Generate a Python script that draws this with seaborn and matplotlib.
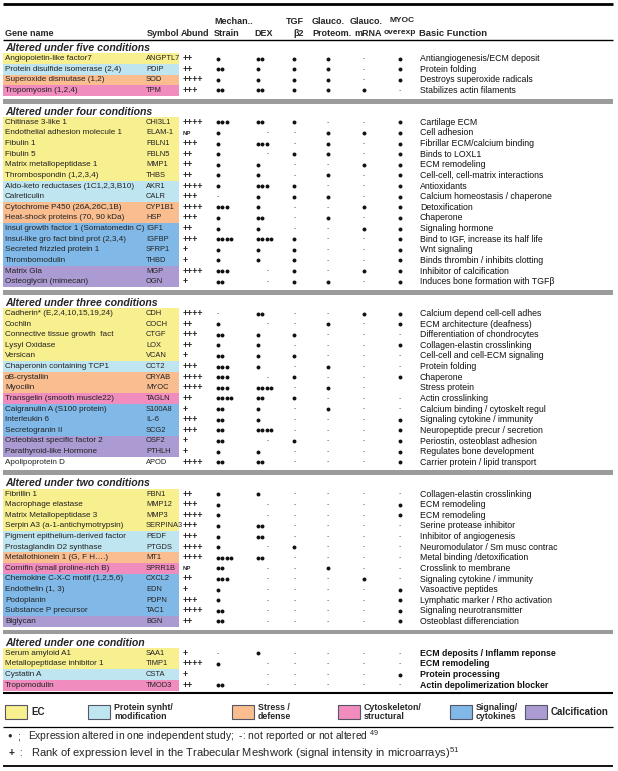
import matplotlib
matplotlib.use("Agg")
import matplotlib.pyplot as plt
import seaborn as sns
import numpy as np
import pandas as pd

# ---- table content -------------------------------------------------------
sections = ["Altered under five conditions", "Altered under four conditions",
            "Altered under three conditions", "Altered under two conditions",
            "Altered under one condition"]
section_sizes = [4, 16, 15, 13, 4]

gene_names = [
    "Angiopoietin-like factor7", "Protein disulfide isomerase (2,4)",
    "Superoxide dismutase (1,2)", "Tropomyosin (1,2,4)",
    "Chitinase 3-like 1", "Endothelial adhesion molecule 1", "Fibulin 1", "Fibulin 5",
    "Matrix metallopeptidase 1", "Thrombospondin (1,2,3,4)",
    "Aldo-keto reductases (1C1,2,3,B10)", "Calreticulin",
    "Cytochrome P450 (26A,26C,1B)", "Heat-shock proteins (70, 90 kDa)",
    "Insul growth factor 1 (Somatomedin C)", "Insul-like gro fact bind prot (2,3,4)",
    "Secreted frizzled protein 1", "Thrombomodulin", "Matrix Gla", "Osteoglycin (mimecan)",
    "Cadherin* (E,2,4,10,15,19,24)", "Cochlin", "Connective tissue growth  fact",
    "Lysyl Oxidase", "Versican", "Chaperonin containing TCP1", "αB-crystallin",
    "Myocilin", "Transgelin (smooth muscle22)", "Calgranulin A (S100 protein)",
    "Interleukin 6", "Secretogranin II", "Osteoblast specific factor 2",
    "Parathyroid-like Hormone", "Apolipoprotein D",
    "Fibrillin 1", "Macrophage elastase", "Matrix Metallopeptidase 3",
    "Serpin A3 (a-1-antichymotrypsin)", "Pigment epithelium-derived factor",
    "Prostaglandin D2 synthase", "Metallothionein 1 (G, F H….)",
    "Cornifin (small proline-rich B)", "Chemokine C-X-C motif (1,2,5,6)",
    "Endothelin (1, 3)", "Podoplanin", "Substance P precursor", "Biglycan",
    "Serum amyloid A1", "Metallopeptidase inhibitor 1", "Cystatin A", "Tropomodulin"]

symbols = ["ANGPTL7", "PDIP", "SOD", "TPM",
           "CHI3L1", "ELAM-1", "FBLN1", "FBLN5", "MMP1", "THBS", "AKR1", "CALR",
           "CYP1B1", "HSP", "IGF1", "IGFBP", "SFRP1", "THBD", "MGP", "OGN",
           "CDH", "COCH", "CTGF", "LOX", "VCAN", "CCT2", "CRYAB", "MYOC", "TAGLN",
           "S100A8", "IL-6", "SCG2", "OSF2", "PTHLH", "APOD",
           "FBN1", "MMP12", "MMP3", "SERPINA3", "PEDF", "PTGDS", "MT1", "SPRR1B",
           "CXCL2", "EDN", "PDPN", "TAC1", "BGN",
           "SAA1", "TIMP1", "CSTA", "TMOD3"]

abund = ["++", "++", "++++", "+++",
         "++++", "NP", "+++", "++", "++", "++", "++++", "+++", "++++", "+++", "++",
         "+++", "+", "+", "++++", "+",
         "++++", "++", "+++", "++", "+", "+++", "++++", "++++", "++", "+", "+++",
         "+++", "+", "+", "++++",
         "++", "+++", "++++", "+++", "+++", "++++", "++++", "NP", "++", "+", "+++",
         "++++", "++",
         "+", "++++", "+", "++"]

# EC, PS protein synth, SD stress/defense, CS cytoskeleton, SG signaling, CA calcification
categories = ["EC", "PS", "SD", "CS",
              "EC", "EC", "EC", "EC", "EC", "EC", "PS", "PS", "SD", "SD", "SG", "SG",
              "SG", "SG", "CA", "CA",
              "EC", "EC", "EC", "EC", "EC", "PS", "SD", "SD", "CS", "SG", "SG", "SG",
              "CA", "CA", None,
              "EC", "EC", "EC", "EC", "PS", "PS", "SD", "CS", "SG", "SG", "SG", "SG", "CA",
              "EC", "EC", "PS", "CS"]

# number of dots per study; 0 = "-", None = empty
strain = [1, 2, 1, 2,
          3, 1, 1, 1, 1, 1, 1, 0, 3, 1, 1, 4, 1, 1, 3, 2,
          0, 1, 2, 1, 2, 3, 3, 3, 4, 2, 2, 2, 2, 1, 2,
          1, 1, 1, 1, 1, 1, 4, 2, 3, 1, 1, 2, 2,
          0, 1, None, 2]
dex = [2, 1, 1, 2,
       2, 0, 3, 0, 1, 1, 3, 1, 1, 2, 1, 4, 1, 1, 0, 0,
       2, 0, 1, 1, 1, 1, 0, 4, 2, 1, 1, 4, 0, 1, 2,
       1, 0, 0, 2, 2, 0, 2, 0, 0, 0, 0, 0, 0,
       1, 0, 0, 0]
tgf = [1, 1, 1, 1,
       1, 0, 0, 1, 0, 0, 1, 1, 0, 0, 0, 1, 1, 1, 1, 1,
       0, 0, 1, 0, 1, 0, 1, 0, 1, 0, 0, 0, 1, 0, 0,
       0, 0, 0, 0, 0, 1, 0, 0, 0, 0, 0, 0, 0,
       0, 0, 0, 0]
proteom = [1, 1, 1, 1,
           0, 1, 1, 1, 0, 1, 0, 1, 0, 1, 0, 0, 0, 0, 0, 1,
           0, 1, 0, 0, 0, 1, 0, 1, 0, 1, 0, 0, 0, 0, 0,
           0, 0, 0, 0, 0, 0, 0, 1, 0, 0, 0, 0, 0,
           0, 0, 0, 0]
mrna = [0, 0, 0, 1,
        0, 1, 0, 0, 1, 0, 0, 0, 1, 0, 1, 0, 0, 0, 1, 0,
        1, 0, 0, 0, 0, 0, 0, 0, 0, 0, 0, 0, 0, 0, 0,
        0, 0, 0, 0, 0, 0, 0, 0, 1, 0, 0, 0, 0,
        0, 0, 0, 0]
myoc = [1, 1, 1, 0,
        1, 1, 1, 1, 1, 1, 1, 1, 1, 1, 1, 1, 1, 1, 1, 1,
        1, 1, 0, 1, 0, 0, 1, None, 0, 0, 1, 1, 1, 1, 1,
        0, 1, 1, 0, 0, 0, 0, 0, 0, 1, 1, 1, 1,
        0, 0, 1, 0]

functions = [
    "Antiangiogenesis/ECM deposit", "Protein folding", "Destroys superoxide radicals",
    "Stabilizes actin filaments",
    "Cartilage ECM", "Cell adhesion", "Fibrillar ECM/calcium binding", "Binds to LOXL1",
    "ECM remodeling", "Cell-cell, cell-matrix interactions", "Antioxidants",
    "Calcium homeostasis / chaperone", "Detoxification", "Chaperone", "Signaling hormone",
    "Bind to IGF, increase its half life", "Wnt signaling",
    "Binds thrombin / inhibits clotting", "Inhibitor of calcification",
    "Induces bone formation with TGFβ",
    "Calcium depend cell-cell adhes", "ECM architecture (deafness)",
    "Differentiation of chondrocytes", "Collagen-elastin crosslinking",
    "Cell-cell and cell-ECM signaling", "Protein folding", "Chaperone", "Stress protein",
    "Actin crosslinking", "Calcium binding / cytoskelt regul",
    "Signaling cytokine / immunity", "Neuropeptide precur / secretion",
    "Periostin, osteoblast adhesion", "Regulates bone development",
    "Carrier protein / lipid transport",
    "Collagen-elastin crosslinking", "ECM remodeling", "ECM remodeling",
    "Serine protease inhibitor", "Inhibitor of angiogenesis",
    "Neuromodulator / Sm musc contrac", "Metal binding /detoxification",
    "Crosslink to membrane", "Signaling cytokine / immunity", "Vasoactive peptides",
    "Lymphatic marker / Rho activation", "Signaling neurotransmitter",
    "Osteoblast differenciation",
    "ECM deposits / Inflamm reponse", "ECM remodeling", "Protein processing",
    "Actin depolimerization blocker"]

legend_keys = ["EC", "PS", "SD", "CS", "SG", "CA"]
legend_labels = ["EC", "Protein synht/\nmodification", "Stress /\ndefense",
                 "Cytoskeleton/\nstructural", "Signaling/\ncytokines", "Calcification"]
cat_colors = {"EC": "#f8ef8e", "PS": "#bfe5f1", "SD": "#f9bd8f",
              "CS": "#f08cbe", "SG": "#80b9e8", "CA": "#ab9bd2"}

# ---- style ---------------------------------------------------------------
sns.set_theme(style="white")
plt.rcParams["font.family"] = ["Liberation Sans", "DejaVu Sans"]
plt.rcParams["mathtext.default"] = "regular"

W, H = 618, 771
fig = plt.figure(figsize=(W / 100, H / 100), dpi=100)
ax = fig.add_axes([0, 0, 1, 1])

fs_gene, fs_sym, fs_func = 5.9, 5.4, 6.3
row_h = 10.62
y_first = 48
x_gene, x_sym, x_abund, x_func = 5, 146, 183, 420
box_l, box_r = 3, 179
line_l, line_r = 3, 613
dot_x = [218, 258, 294, 328, 364, 400]
dash_x = [218, 268, 295, 328, 364, 400]
dot_step = 4.3

# slot positions for titles, rows and gray separators
slot = 0
title_y, row_y, bar_y = [], [], []
for i, n in enumerate(section_sizes):
    title_y.append(y_first + slot * row_h)
    slot += 1
    for _ in range(n):
        row_y.append(y_first + slot * row_h)
        slot += 1
    if i < len(section_sizes) - 1:
        bar_y.append(y_first + slot * row_h)
        slot += 1
row_y = np.array(row_y)

# colored category boxes
has_cat = [c is not None for c in categories]
ax.barh(row_y[has_cat], width=box_r - box_l, left=box_l, height=row_h,
        color=[cat_colors[c] for c in categories if c is not None], linewidth=0)

# gray separators
ax.barh(bar_y, width=line_r - line_l, left=line_l, height=4.8, color="#9b9b9b",
        linewidth=0)

# dots and dashes
dots, dashes = [], []
for vals, xd, xs in zip([strain, dex, tgf, proteom, mrna, myoc], dot_x, dash_x):
    for y, v in zip(row_y, vals):
        if v is None:
            continue
        if v == 0:
            dashes.append((xs, y))
        else:
            for k in range(v):
                dots.append((xd + k * dot_step, y))
dot_df = pd.DataFrame(dots, columns=["x", "y"])
sns.scatterplot(data=dot_df, x="x", y="y", s=8, color="#111111", linewidth=0,
                ax=ax, legend=False)
for x, y in dashes:
    ax.text(x, y, "-", fontsize=5, color="#555555", ha="center", va="center")

# row texts
n_last = section_sizes[-1]
for i, y in enumerate(row_y):
    ax.text(x_gene, y, gene_names[i], fontsize=fs_gene, color="#222222", va="center")
    ax.text(x_sym, y, symbols[i], fontsize=fs_sym, color="#222222", va="center")
    if abund[i] == "NP":
        ax.text(x_abund, y + 0.5, "NP", fontsize=4.4, fontweight="bold", va="center")
    else:
        ax.text(x_abund, y, abund[i], fontsize=6.3, fontweight="bold", va="center")
    bold = i >= len(row_y) - n_last
    ax.text(x_func, y, functions[i], fontsize=fs_func, color="#111111", va="center",
            fontweight="bold" if bold else "normal")

# section titles
for t, y in zip(sections, title_y):
    ax.text(x_gene, y, t, fontsize=7.6, fontweight="bold", fontstyle="italic",
            va="center")

# header
hy1, hy2 = 21, 33
hkw = dict(fontsize=6.5, fontweight="bold", va="center")
ax.text(214, hy1, "Mechan..", **hkw)
ax.text(304, hy1, "TGF", ha="right", **hkw)
ax.text(312, hy1, "Glauco.", **hkw)
ax.text(350, hy1, "Glauco.", **hkw)
ax.text(389, hy1, "MYOC", fontsize=6.0, fontweight="bold", va="center")
ax.text(x_gene, hy2, "Gene name", **hkw)
ax.text(147, hy2, "Symbol", **hkw)
ax.text(181, hy2, "Abund", **hkw)
ax.text(214, hy2, "Strain", **hkw)
ax.text(254, hy2, "DEX", **hkw)
ax.text(304, hy2, "β2", ha="right", **hkw)
ax.text(312, hy2, "Proteom.", **hkw)
ax.text(354, hy2, "mRNA", **hkw)
ax.text(384, hy2, "overexp", fontsize=6.0, fontweight="bold", va="center")
ax.text(419, hy2, "Basic Function", fontsize=6.8, fontweight="bold", va="center")

# rules
y_end = row_y[-1] + 8
ax.hlines(4, line_l, line_r, color="black", lw=2.0)
ax.hlines(40, line_l, line_r, color="black", lw=1.0)
ax.hlines(y_end, line_l, line_r, color="black", lw=1.5)

# legend
leg_y = y_end + 19
leg_box_x = [5, 88, 232, 338, 450, 525]
for key, lab, lx in zip(legend_keys, legend_labels, leg_box_x):
    ax.barh([leg_y], width=22, left=lx, height=14, color=cat_colors[key],
            edgecolor="#555566", linewidth=0.8)
    big = "\n" not in lab
    ax.text(lx + 26, leg_y, lab, fontsize=7.0 if big else 6.3, fontweight="bold",
            va="center", linespacing=1.05)
ax.hlines(leg_y + 15, line_l, line_r, color="black", lw=0.9)

# footnotes
f1, f2 = leg_y + 24, leg_y + 41
ax.text(7, f1, "●", fontsize=5.5, va="center")
ax.text(17, f1, ";", fontsize=7.4, va="center")
ax.text(28, f1, "Expression altered in one independent study;  -: not reported "
        "or not altered $^{49}$", fontsize=7.4, va="center")
ax.text(9, f2, "+", fontsize=7.4, fontweight="bold", va="center")
ax.text(19, f2, ":", fontsize=7.4, va="center")
ax.text(31, f2, "Rank of expression level in the Trabecular Meshwork "
        "(signal intensity in microarrays)$^{51}$", fontsize=8.0, va="center")
ax.hlines(f2 + 13, line_l, line_r, color="black", lw=1.3)

ax.set_xlim(0, W)
ax.set_ylim(H, 0)
ax.axis("off")
fig.savefig("out.png", dpi=100)
